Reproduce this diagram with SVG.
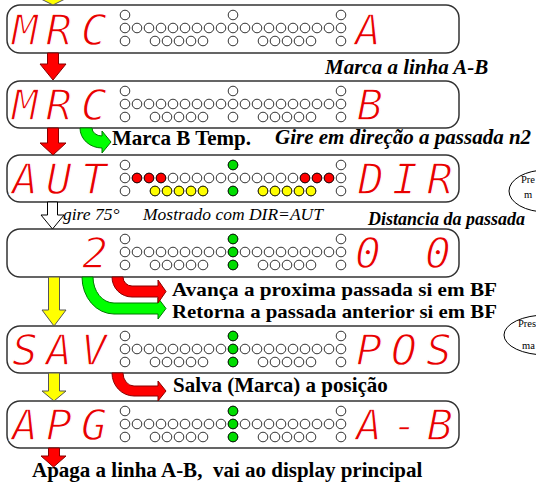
<svg xmlns="http://www.w3.org/2000/svg" width="536" height="490" viewBox="0 0 536 490">
<style>
.panel{fill:#fff;stroke:#333;stroke-width:1.5}
.d{fill:#fff;stroke:#000;stroke-width:0.8}
.r{fill:#f00}
.y{fill:#ff0}
.g{fill:#0d0}
.seg{font-family:"DejaVu Sans Mono",monospace;font-style:italic;font-size:43px;fill:#e80000;stroke:#fff;stroke-width:1.3;text-anchor:middle}
.ar{fill:#f00;stroke:#800;stroke-width:1}
.ay{fill:#ff0;stroke:#555;stroke-width:1}
.ag{fill:#0f0;stroke:#070;stroke-width:1}
.aw{fill:#fff;stroke:#000;stroke-width:1}
.b{font-family:"Liberation Serif","Times New Roman",serif;font-weight:bold;font-size:21px;fill:#000}
.bi{font-family:"Liberation Serif","Times New Roman",serif;font-weight:bold;font-style:italic;font-size:21px;fill:#000}
.i{font-family:"Liberation Serif","Times New Roman",serif;font-style:italic;font-size:17.5px;fill:#000}
.s{font-family:"Liberation Serif","Times New Roman",serif;font-size:10.5px;fill:#000}
.el{fill:none;stroke:#000;stroke-width:1}
</style>
<defs>
<g id="dots">
<circle class="d" cx="125" cy="10" r="4.8"/><circle class="d" cx="233" cy="10" r="4.8"/><circle class="d" cx="341" cy="10" r="4.8"/>
<circle class="d" cx="125" cy="23" r="4.8"/><circle class="d" cx="137" cy="23" r="4.8"/><circle class="d" cx="149" cy="23" r="4.8"/><circle class="d" cx="161" cy="23" r="4.8"/><circle class="d" cx="173" cy="23" r="4.8"/><circle class="d" cx="185" cy="23" r="4.8"/><circle class="d" cx="197" cy="23" r="4.8"/><circle class="d" cx="209" cy="23" r="4.8"/><circle class="d" cx="221" cy="23" r="4.8"/><circle class="d" cx="233" cy="23" r="4.8"/><circle class="d" cx="245" cy="23" r="4.8"/><circle class="d" cx="257" cy="23" r="4.8"/><circle class="d" cx="269" cy="23" r="4.8"/><circle class="d" cx="281" cy="23" r="4.8"/><circle class="d" cx="293" cy="23" r="4.8"/><circle class="d" cx="305" cy="23" r="4.8"/><circle class="d" cx="317" cy="23" r="4.8"/><circle class="d" cx="329" cy="23" r="4.8"/><circle class="d" cx="341" cy="23" r="4.8"/>
<circle class="d" cx="125" cy="36" r="4.8"/><circle class="d" cx="155" cy="36" r="4.8"/><circle class="d" cx="167" cy="36" r="4.8"/><circle class="d" cx="179" cy="36" r="4.8"/><circle class="d" cx="191" cy="36" r="4.8"/><circle class="d" cx="203" cy="36" r="4.8"/><circle class="d" cx="233" cy="36" r="4.8"/><circle class="d" cx="263" cy="36" r="4.8"/><circle class="d" cx="275" cy="36" r="4.8"/><circle class="d" cx="287" cy="36" r="4.8"/><circle class="d" cx="299" cy="36" r="4.8"/><circle class="d" cx="311" cy="36" r="4.8"/><circle class="d" cx="341" cy="36" r="4.8"/>
</g>
</defs>
<rect width="536" height="490" fill="#fff"/>

<g id="p1">
<rect class="panel" x="7" y="5" width="452" height="48" rx="13"/>
<use href="#dots" y="5"/>
<text class="seg" x="25" y="45">M</text><text class="seg" x="59" y="45">R</text><text class="seg" x="94" y="45">C</text>
<text class="seg" x="368" y="45">A</text>
</g>

<g id="p2">
<rect class="panel" x="7" y="81" width="452" height="47" rx="13"/>
<use href="#dots" y="81"/>
<text class="seg" x="25" y="120">M</text><text class="seg" x="59" y="120">R</text><text class="seg" x="94" y="120">C</text>
<text class="seg" x="370" y="120">B</text>
</g>

<g id="p3">
<rect class="panel" x="7" y="155" width="452" height="47" rx="13"/>
<use href="#dots" y="155"/>
<circle class="d r" cx="137" cy="178" r="4.8"/><circle class="d r" cx="149" cy="178" r="4.8"/><circle class="d r" cx="161" cy="178" r="4.8"/>
<circle class="d r" cx="305" cy="178" r="4.8"/><circle class="d r" cx="317" cy="178" r="4.8"/><circle class="d r" cx="329" cy="178" r="4.8"/>
<circle class="d y" cx="155" cy="191" r="4.8"/><circle class="d y" cx="167" cy="191" r="4.8"/><circle class="d y" cx="179" cy="191" r="4.8"/><circle class="d y" cx="191" cy="191" r="4.8"/><circle class="d y" cx="203" cy="191" r="4.8"/>
<circle class="d y" cx="263" cy="191" r="4.8"/><circle class="d y" cx="275" cy="191" r="4.8"/><circle class="d y" cx="287" cy="191" r="4.8"/><circle class="d y" cx="299" cy="191" r="4.8"/><circle class="d y" cx="311" cy="191" r="4.8"/>
<circle class="d g" cx="233" cy="165" r="4.8"/><circle class="d g" cx="233" cy="191" r="4.8"/>
<text class="seg" x="25" y="194">A</text><text class="seg" x="59" y="194">U</text><text class="seg" x="94" y="194">T</text>
<text class="seg" x="371" y="194">D</text><text class="seg" x="405" y="194">I</text><text class="seg" x="440" y="194">R</text>
</g>

<g id="p4">
<rect class="panel" x="7" y="229" width="452" height="48" rx="13"/>
<use href="#dots" y="229"/>
<circle class="d g" cx="233" cy="239" r="4.8"/><circle class="d g" cx="233" cy="252" r="4.8"/><circle class="d g" cx="233" cy="265" r="4.8"/>
<text class="seg" x="95" y="268">2</text>
<text class="seg" x="368" y="268">0</text><text class="seg" x="438" y="268">0</text>
</g>

<g id="p5">
<rect class="panel" x="7" y="326" width="452" height="47" rx="13"/>
<use href="#dots" y="326"/>
<circle class="d g" cx="233" cy="336" r="4.8"/><circle class="d g" cx="233" cy="349" r="4.8"/><circle class="d g" cx="233" cy="362" r="4.8"/>
<text class="seg" x="25" y="365">S</text><text class="seg" x="59" y="365">A</text><text class="seg" x="94" y="365">V</text>
<text class="seg" x="369" y="365">P</text><text class="seg" x="404" y="365">O</text><text class="seg" x="439" y="365">S</text>
</g>

<g id="p6">
<rect class="panel" x="7" y="401" width="452" height="47" rx="13"/>
<use href="#dots" y="401"/>
<circle class="d g" cx="233" cy="411" r="4.8"/><circle class="d g" cx="233" cy="424" r="4.8"/><circle class="d g" cx="233" cy="437" r="4.8"/>
<text class="seg" x="25" y="440">A</text><text class="seg" x="59" y="440">P</text><text class="seg" x="94" y="440">G</text>
<text class="seg" x="369" y="440">A</text><text class="seg" x="405" y="440">-</text><text class="seg" x="440" y="440">B</text>
</g>

<g id="connectors">
<polygon class="ay" points="39,-2 67,-2 53,5"/>
<polygon class="ar" points="47.5,53 58.5,53 58.5,64 66,64 53,80 40,64 47.5,64"/>
<polygon class="ar" points="47.5,128 58.5,128 58.5,143 66,143 53,155 40,143 47.5,143"/>
<path class="ag" d="M80,128 A22,20 0 0 0 102,148 L102,153 L111,142 L102,131 L102,136 A10,8 0 0 1 92,128 Z"/>
<polygon class="aw" points="47.5,202 57.5,202 57.5,215 64,215 52.5,229 41,215 47.5,215"/>
<path class="ag" d="M82,277 A32,37 0 0 0 114,314 L158,314 L158,319 L166,308.5 L158,298 L158,303 L114,303 A21,26 0 0 1 93,277 Z"/>
<path class="ar" d="M112,277 A20,20 0 0 0 132,297 L158,297 L158,303 L166,291.5 L158,280 L158,286 L132,286 A9,9 0 0 1 123,277 Z"/>
<polygon class="ay" points="48.5,277 59.5,277 59.5,310 66,310 54,326 42,310 48.5,310"/>
<polygon class="ay" points="48.5,373 59.5,373 59.5,391 66,391 54,401 42,391 48.5,391"/>
<path class="ar" d="M112,373 A22,23 0 0 0 134,396 L158,396 L158,401 L166,391 L158,381 L158,386 L134,386 A11,13 0 0 1 123,373 Z"/>
<polygon class="ar" points="48.5,448 59.5,448 59.5,456 66,456 53.5,467 41,456 48.5,456"/>
</g>

<g id="labels">
<text class="bi" x="325" y="74">Marca a linha A-B</text>
<text class="b" x="112" y="145">Marca B Temp.</text>
<text class="bi" x="275" y="144">Gire em direção a passada n2</text>
<text class="i" x="63" y="220">gire 75°</text>
<text class="i" x="143" y="220">Mostrado com DIR=AUT</text>
<text class="bi" x="368" y="225" style="font-size:18px">Distancia da passada</text>
<text class="b" x="172" y="296" style="font-size:19.5px" textLength="325" lengthAdjust="spacingAndGlyphs">Avança a proxima passada si em BF</text>
<text class="b" x="172" y="318" style="font-size:19.5px" textLength="325" lengthAdjust="spacingAndGlyphs">Retorna a passada anterior si em BF</text>
<text class="b" x="173" y="392">Salva (Marca) a posição</text>
<text class="b" x="32" y="477" style="white-space:pre">Apaga a linha A-B,  vai ao display principal</text>
</g>

<g id="notes">
<ellipse class="el" cx="546" cy="191" rx="37" ry="21"/>
<text class="s" x="521" y="183">Pre</text>
<text class="s" x="524" y="198">m</text>
<ellipse class="el" cx="546" cy="335" rx="42" ry="20"/>
<text class="s" x="518" y="327">Pres</text>
<text class="s" x="522" y="349">ma</text>
</g>
</svg>
